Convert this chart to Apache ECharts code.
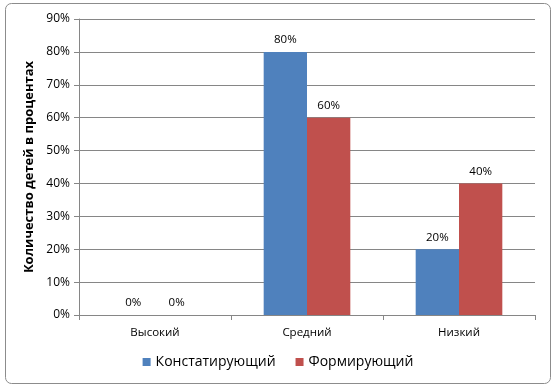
<!DOCTYPE html>
<html><head><meta charset="utf-8">
<script src="https://cdn.jsdelivr.net/npm/echarts@6/dist/echarts.min.js"></script>
<style>html,body{margin:0;padding:0;background:#fff}#c{width:556px;height:389px}</style>
</head><body><div id="c"></div>
<script>
const categories = ['Высокий', 'Средний', 'Низкий'];
const seriesNames = ['Констатирующий', 'Формирующий'];
const valuesA = [0, 80, 20];
const valuesB = [0, 60, 40];
const colors = ['#4f81bd', '#c0504d'];
const font = 'Open Sans, Liberation Sans, sans-serif';
const chart = echarts.init(document.getElementById('c'), null, {renderer: 'canvas'});
const mk = (name, data, color) => ({
  name, type: 'bar', data, barGap: '0%', barCategoryGap: '43%',
  itemStyle: {color},
  label: {show: true, position: 'top', formatter: '{c}%', color: '#000', fontSize: 11.5, fontFamily: font, distance: 6}
});
chart.setOption({
  animation: false,
  graphic: [{type: 'rect', shape: {x: 5.5, y: 3.5, width: 545, height: 380, r: 6}, style: {fill: 'none', stroke: '#8c8c8c', lineWidth: 1}, z: -1}],
  grid: {left: 79, right: 21, top: 19, bottom: 74},
  legend: {bottom: 15, left: 'center', itemWidth: 8, itemHeight: 8, itemGap: 20, icon: 'rect',
    textStyle: {fontSize: 14, fontFamily: font, color: '#000'}, data: seriesNames},
  xAxis: {type: 'category', data: categories,
    axisLine: {lineStyle: {color: '#868686'}},
    axisTick: {show: true, length: 5, lineStyle: {color: '#868686'}},
    axisLabel: {fontSize: 11.5, fontFamily: font, color: '#000', margin: 12}},
  yAxis: {type: 'value', min: 0, max: 90, interval: 10,
    name: 'Количество детей в процентах', nameLocation: 'middle', nameGap: 38,
    nameTextStyle: {fontSize: 13, fontWeight: 'bold', fontFamily: font, color: '#000'},
    axisLine: {show: true, lineStyle: {color: '#868686'}},
    axisTick: {show: true, length: 5, lineStyle: {color: '#868686'}},
    splitLine: {lineStyle: {color: '#868686'}},
    axisLabel: {formatter: '{value}%', fontSize: 12, fontFamily: font, color: '#000', margin: 9}},
  series: [mk(seriesNames[0], valuesA, colors[0]), mk(seriesNames[1], valuesB, colors[1])]
});
</script></body></html>
